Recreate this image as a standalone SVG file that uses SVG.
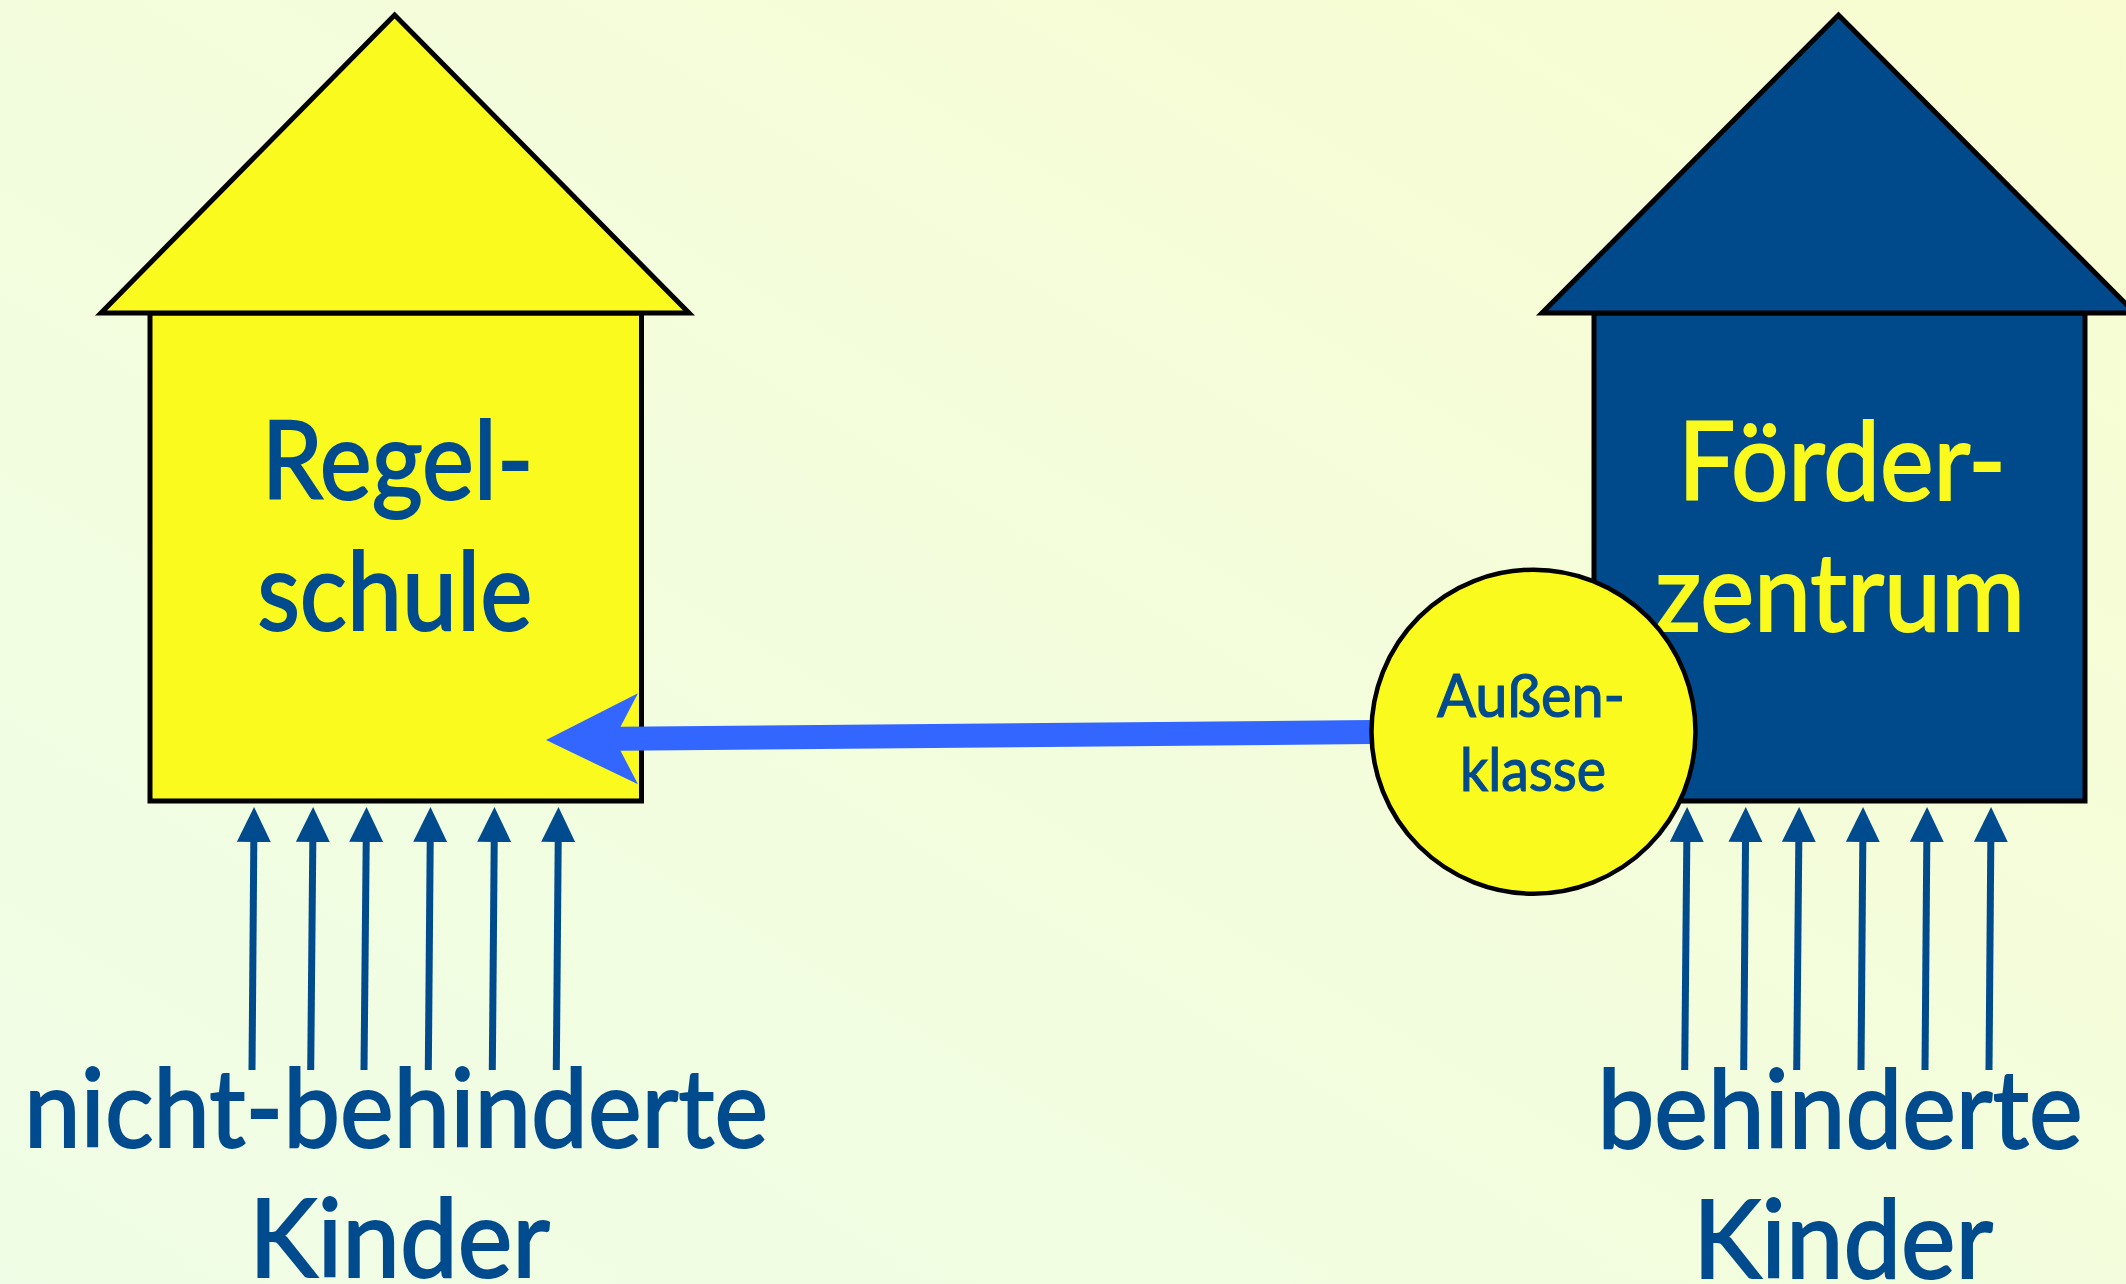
<svg xmlns="http://www.w3.org/2000/svg" width="2126" height="1284" viewBox="0 0 2126 1284">
  <defs>
    <linearGradient id="bg" x1="0" y1="1" x2="1" y2="0">
      <stop offset="0" stop-color="#f0fde6"/>
      <stop offset="0.5" stop-color="#f3fddd"/>
      <stop offset="1" stop-color="#f8fcd0"/>
    </linearGradient>
    <marker id="head" markerUnits="userSpaceOnUse" viewBox="0 0 35 34" markerWidth="35" markerHeight="34" refX="0" refY="17" orient="auto">
      <path d="M0,0 L35,17 L0,34 z" fill="#004b8d"/>
    </marker>
    <style>
      .outline { stroke: #000; stroke-width: 5; stroke-linejoin: miter; }
      .yellow { fill: #fafa1e; }
      .navy { fill: #004a8c; }
      .big { font-family: Lato, "Liberation Sans", sans-serif; font-size: 108px; text-anchor: middle; stroke-width: 2; }
      .small { font-family: Lato, "Liberation Sans", sans-serif; font-size: 60px; text-anchor: middle; stroke-width: 1.2; }
      .tblue { fill: #004b8d; stroke: #004b8d; }
      .tyellow { fill: #fafa1e; stroke: #fafa1e; }
      .kid { stroke: #004b8d; stroke-width: 7; fill: none; marker-end: url(#head); }
    </style>
  </defs>
  <rect x="0" y="0" width="2126" height="1284" fill="url(#bg)"/>

  <g id="regelschule">
    <rect class="yellow outline" x="150" y="313" width="491.5" height="488"/>
    <polygon class="yellow outline" points="101,313 394.6,15 689,313"/>
    <text class="big tblue" x="397.5" y="499" textLength="272" lengthAdjust="spacingAndGlyphs">Regel-</text>
    <text class="big tblue" x="394.7" y="630" textLength="275" lengthAdjust="spacingAndGlyphs">schule</text>
  </g>

  <g id="foerderzentrum">
    <rect class="navy outline" x="1594" y="313" width="491" height="488"/>
    <polygon class="navy outline" points="1542,313 1838.5,15 2135,313"/>
    <text class="big tyellow" x="1842" y="500" textLength="328" lengthAdjust="spacingAndGlyphs">Förder-</text>
    <text class="big tyellow" x="1840" y="631" textLength="370" lengthAdjust="spacingAndGlyphs">zentrum</text>
  </g>

  <g id="labels">
    <text class="big tblue" x="396" y="1147" textLength="744" lengthAdjust="spacingAndGlyphs">nicht-behinderte</text>
    <text class="big tblue" x="399.5" y="1277" textLength="301" lengthAdjust="spacingAndGlyphs">Kinder</text>
    <text class="big tblue" x="1840" y="1148" textLength="485" lengthAdjust="spacingAndGlyphs">behinderte</text>
    <text class="big tblue" x="1843" y="1278" textLength="300" lengthAdjust="spacingAndGlyphs">Kinder</text>
  </g>

  <g id="connectors">
    <polygon fill="#3366ff" points="1372,720 1372,744 620.5,750.7 638,784.3 546,740 638,693.3 620.5,726.7"/>
    <line class="kid" x1="252" y1="1070" x2="253.8" y2="842"/>
    <line class="kid" x1="310.7" y1="1070" x2="312.8" y2="842"/>
    <line class="kid" x1="364" y1="1070" x2="366.2" y2="842"/>
    <line class="kid" x1="428.3" y1="1070" x2="430.2" y2="842"/>
    <line class="kid" x1="492.3" y1="1070" x2="494.2" y2="842"/>
    <line class="kid" x1="556.3" y1="1070" x2="558.2" y2="842"/>
    <line class="kid" x1="1684.7" y1="1070" x2="1686.8" y2="842"/>
    <line class="kid" x1="1743.7" y1="1070" x2="1745.5" y2="842"/>
    <line class="kid" x1="1796.7" y1="1070" x2="1798.8" y2="842"/>
    <line class="kid" x1="1861" y1="1070" x2="1862.8" y2="842"/>
    <line class="kid" x1="1925" y1="1070" x2="1926.8" y2="842"/>
    <line class="kid" x1="1989" y1="1070" x2="1990.8" y2="842"/>
  </g>

  <g id="aussenklasse">
    <circle class="yellow" cx="1533.5" cy="731.7" r="162" stroke="#000" stroke-width="4.5"/>
    <text class="small tblue" x="1531" y="716.7" textLength="188" lengthAdjust="spacingAndGlyphs">Außen-</text>
    <text class="small tblue" x="1533" y="790.7" textLength="146" lengthAdjust="spacingAndGlyphs">klasse</text>
  </g>
</svg>
